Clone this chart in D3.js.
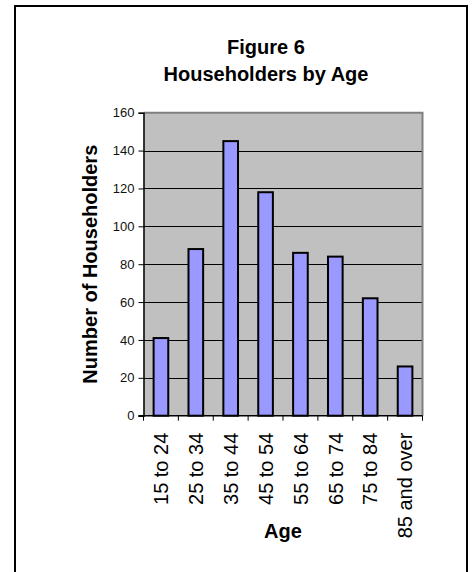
<!DOCTYPE html>
<html>
<head>
<meta charset="utf-8">
<script src="https://cdn.jsdelivr.net/npm/d3@7"></script>
<style>
  html, body { margin: 0; padding: 0; background: #fff; }
  svg { display: block; font-family: Arial, "Liberation Sans", sans-serif; }
</style>
</head>
<body>
<svg id="chart" width="473" height="572"></svg>
<script>
// Householders by age group
const ageGroups = ["15 to 24", "25 to 34", "35 to 44", "45 to 54", "55 to 64", "65 to 74", "75 to 84", "85 and over"];
const householders = [41, 88, 145, 118, 86, 84, 62, 26];
const yTicks = [0, 20, 40, 60, 80, 100, 120, 140, 160];
const titleLines = ["Figure 6", "Householders by Age"];

const svg = d3.select("#chart");

// Chart frame
svg.append("rect")
  .attr("x", 15).attr("y", 6)
  .attr("width", 452).attr("height", 600)
  .attr("fill", "#fff")
  .attr("stroke", "#000")
  .attr("stroke-width", 2);

const plot = { left: 143.5, right: 422.5, top: 112.7, bottom: 415.7 };

const x = d3.scaleBand()
  .domain(ageGroups)
  .range([plot.left, plot.right])
  .paddingInner(0.58)
  .paddingOuter(0.29);

const y = d3.scaleLinear()
  .domain([0, 160])
  .range([plot.bottom, plot.top]);

// Plot background
svg.append("rect")
  .attr("x", plot.left).attr("y", plot.top)
  .attr("width", plot.right - plot.left)
  .attr("height", plot.bottom - plot.top)
  .attr("fill", "#c0c0c0");

// Gridlines
svg.append("g")
  .selectAll("line")
  .data(yTicks.filter(t => t > 0 && t < 160))
  .join("line")
  .attr("x1", plot.left).attr("x2", plot.right)
  .attr("y1", d => Math.round(y(d)) + 0.5)
  .attr("y2", d => Math.round(y(d)) + 0.5)
  .attr("stroke", "#000")
  .attr("stroke-width", 1);

// Plot border (top and right)
svg.append("path")
  .attr("d", `M${plot.left},${plot.top} H${plot.right} V${plot.bottom}`)
  .attr("fill", "none")
  .attr("stroke", "#808080")
  .attr("stroke-width", 2);

// Bars
svg.append("g")
  .selectAll("rect")
  .data(ageGroups.map((g, i) => ({ g, v: householders[i] })))
  .join("rect")
  .attr("x", d => x(d.g))
  .attr("y", d => y(d.v))
  .attr("width", x.bandwidth())
  .attr("height", d => y(0) - y(d.v))
  .attr("fill", "#9999ff")
  .attr("stroke", "#000")
  .attr("stroke-width", 2);

// Y axis
const yAxis = svg.append("g")
  .attr("transform", `translate(${plot.left},0)`)
  .call(d3.axisLeft(y).tickValues(yTicks).tickSize(5).tickPadding(4));
yAxis.select(".domain").attr("stroke", "#000").attr("stroke-width", 1.5);
yAxis.selectAll(".tick line").attr("stroke", "#000");
yAxis.selectAll(".tick text")
  .attr("font-size", 13)
  .attr("font-family", "Arial, 'Liberation Sans', sans-serif")
  .attr("fill", "#111");

// X axis: tick marks at category boundaries
const xAxisG = svg.append("g");
xAxisG.append("line")
  .attr("x1", plot.left - 5).attr("x2", plot.right)
  .attr("y1", plot.bottom).attr("y2", plot.bottom)
  .attr("stroke", "#000").attr("stroke-width", 1.5);
const boundaries = ageGroups.map((g, i) => plot.left + i * x.step());
boundaries.push(plot.right);
xAxisG.selectAll("line.b")
  .data(boundaries)
  .join("line")
  .attr("class", "b")
  .attr("x1", d => d).attr("x2", d => d)
  .attr("y1", plot.bottom).attr("y2", plot.bottom + 5)
  .attr("stroke", "#000");

// Category labels (vertical)
xAxisG.selectAll("text")
  .data(ageGroups)
  .join("text")
  .attr("transform", d => `translate(${x(d) + x.bandwidth() / 2},${plot.bottom + 17}) rotate(-90)`)
  .attr("text-anchor", "end")
  .attr("dy", "0.36em")
  .attr("font-size", 20)
  .attr("fill", "#000")
  .text(d => d);

// Axis titles
svg.append("text")
  .attr("x", (plot.left + plot.right) / 2)
  .attr("y", 538)
  .attr("text-anchor", "middle")
  .attr("font-size", 20)
  .attr("font-weight", "bold")
  .text("Age");

svg.append("text")
  .attr("transform", `translate(96.5,${(plot.top + plot.bottom) / 2}) rotate(-90)`)
  .attr("text-anchor", "middle")
  .attr("font-size", 20)
  .attr("font-weight", "bold")
  .text("Number of Householders");

// Title
svg.append("g")
  .selectAll("text")
  .data(titleLines)
  .join("text")
  .attr("x", 266)
  .attr("y", (d, i) => 53.5 + i * 27)
  .attr("text-anchor", "middle")
  .attr("font-size", 20)
  .attr("font-weight", "bold")
  .text(d => d);
</script>
</body>
</html>
